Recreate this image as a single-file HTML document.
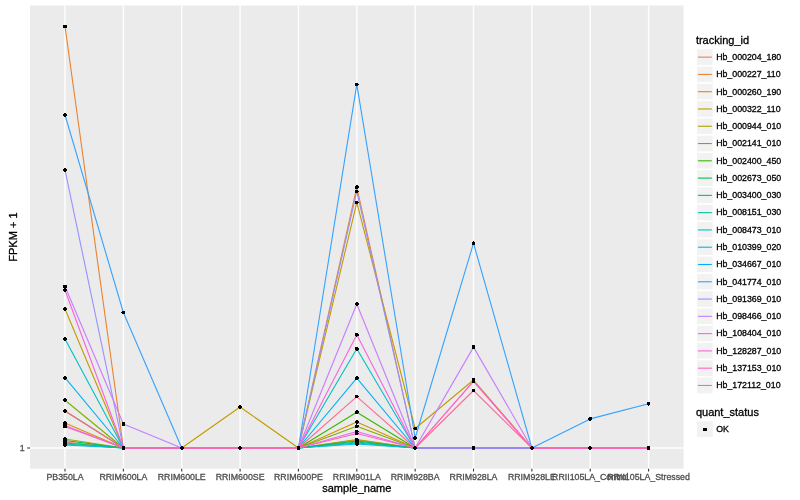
<!DOCTYPE html><html><head><meta charset="utf-8"><style>html,body{margin:0;padding:0;background:#fff;width:800px;height:500px;overflow:hidden}svg{display:block;will-change:transform}text{font-family:"Liberation Sans",sans-serif}text{stroke-width:0.3px}</style></head><body>
<svg width="800" height="500" viewBox="0 0 800 500">
<rect x="0" y="0" width="800" height="500" fill="#fff"/>
<rect x="30" y="5.5" width="653.6" height="463.2" fill="#EBEBEB"/>
<g stroke="#fff" stroke-width="1.4">
<line x1="30" y1="448" x2="683.6" y2="448"/>
<line x1="65.01" y1="5.5" x2="65.01" y2="468.7"/>
<line x1="123.37" y1="5.5" x2="123.37" y2="468.7"/>
<line x1="181.73" y1="5.5" x2="181.73" y2="468.7"/>
<line x1="240.09" y1="5.5" x2="240.09" y2="468.7"/>
<line x1="298.44" y1="5.5" x2="298.44" y2="468.7"/>
<line x1="356.8" y1="5.5" x2="356.8" y2="468.7"/>
<line x1="415.16" y1="5.5" x2="415.16" y2="468.7"/>
<line x1="473.51" y1="5.5" x2="473.51" y2="468.7"/>
<line x1="531.87" y1="5.5" x2="531.87" y2="468.7"/>
<line x1="590.23" y1="5.5" x2="590.23" y2="468.7"/>
<line x1="648.59" y1="5.5" x2="648.59" y2="468.7"/>
</g>
<g fill="none" stroke-width="1.1" stroke-linejoin="round" stroke-linecap="butt">
<polyline stroke="#F8766D" points="65.01,442 123.37,448 181.73,448 240.09,448 298.44,448 356.8,440 415.16,448 473.51,448 531.87,448 590.23,448 648.59,448"/>
<polyline stroke="#EA8331" points="65.01,26.4 123.37,448 181.73,448 240.09,448 298.44,448 356.8,187.2 415.16,448 473.51,448 531.87,448 590.23,448 648.59,448"/>
<polyline stroke="#D89000" points="65.01,423 123.37,448 181.73,448 240.09,448 298.44,448 356.8,422 415.16,448 473.51,448 531.87,448 590.23,448 648.59,448"/>
<polyline stroke="#C09B00" points="65.01,309 123.37,448 181.73,448 240.09,407 298.44,448 356.8,202.4 415.16,428.5 473.51,380 531.87,448 590.23,448 648.59,448"/>
<polyline stroke="#A3A500" points="65.01,439 123.37,448 181.73,448 240.09,448 298.44,448 356.8,439.5 415.16,448 473.51,448 531.87,448 590.23,448 648.59,448"/>
<polyline stroke="#7CAE00" points="65.01,400.3 123.37,448 181.73,448 240.09,448 298.44,448 356.8,426.3 415.16,448 473.51,448 531.87,448 590.23,448 648.59,448"/>
<polyline stroke="#39B600" points="65.01,411 123.37,448 181.73,448 240.09,448 298.44,448 356.8,412.2 415.16,448 473.51,448 531.87,448 590.23,448 648.59,448"/>
<polyline stroke="#00BB4E" points="65.01,440.5 123.37,448 181.73,448 240.09,448 298.44,448 356.8,441 415.16,448 473.51,448 531.87,448 590.23,448 648.59,448"/>
<polyline stroke="#00BF7D" points="65.01,443 123.37,448 181.73,448 240.09,448 298.44,448 356.8,442 415.16,448 473.51,448 531.87,448 590.23,448 648.59,448"/>
<polyline stroke="#00C1A3" points="65.01,444 123.37,448 181.73,448 240.09,448 298.44,448 356.8,443 415.16,448 473.51,448 531.87,448 590.23,448 648.59,448"/>
<polyline stroke="#00BFC4" points="65.01,339 123.37,448 181.73,448 240.09,448 298.44,448 356.8,348.8 415.16,448 473.51,448 531.87,448 590.23,448 648.59,448"/>
<polyline stroke="#00BAE0" points="65.01,445 123.37,448 181.73,448 240.09,448 298.44,448 356.8,444 415.16,448 473.51,448 531.87,448 590.23,448 648.59,448"/>
<polyline stroke="#00B0F6" points="65.01,377.7 123.37,448 181.73,448 240.09,448 298.44,448 356.8,378.2 415.16,448 473.51,448 531.87,448 590.23,448 648.59,448"/>
<polyline stroke="#35A2FF" points="65.01,115 123.37,312.5 181.73,448 240.09,448 298.44,448 356.8,84.4 415.16,438 473.51,243.2 531.87,448 590.23,418.9 648.59,403.7"/>
<polyline stroke="#9590FF" points="65.01,170 123.37,448 181.73,448 240.09,448 298.44,448 356.8,191.4 415.16,448 473.51,448 531.87,448 590.23,448 648.59,448"/>
<polyline stroke="#C77CFF" points="65.01,286.5 123.37,424 181.73,448 240.09,448 298.44,448 356.8,304 415.16,448 473.51,347.1 531.87,448 590.23,448 648.59,448"/>
<polyline stroke="#E76BF3" points="65.01,425.5 123.37,448 181.73,448 240.09,448 298.44,448 356.8,431.5 415.16,448 473.51,448 531.87,448 590.23,448 648.59,448"/>
<polyline stroke="#FA62DB" points="65.01,290.2 123.37,448 181.73,448 240.09,448 298.44,448 356.8,334.7 415.16,448 473.51,381 531.87,448 590.23,448 648.59,448"/>
<polyline stroke="#FF62BC" points="65.01,426.5 123.37,448 181.73,448 240.09,448 298.44,448 356.8,433.5 415.16,448 473.51,381.5 531.87,448 590.23,448 648.59,448"/>
<polyline stroke="#FF6A98" points="65.01,411 123.37,448 181.73,448 240.09,448 298.44,448 356.8,396.6 415.16,448 473.51,390.5 531.87,448 590.23,448 648.59,448"/>
</g>
<path fill="#000" shape-rendering="crispEdges" d="M64 440h2v1h-2zM63 441h4v1h-4zM63 442h4v1h-4zM64 443h2v1h-2zM122 446h3v1h-3zM122 447h3v1h-3zM122 448h3v1h-3zM122 449h3v1h-3zM181 446h2v1h-2zM180 447h4v1h-4zM180 448h4v1h-4zM181 449h2v1h-2zM239 446h2v1h-2zM238 447h4v1h-4zM238 448h4v1h-4zM239 449h2v1h-2zM297 446h3v1h-3zM297 447h3v1h-3zM297 448h3v1h-3zM297 449h3v1h-3zM356 438h2v1h-2zM355 439h4v1h-4zM355 440h4v1h-4zM356 441h2v1h-2zM414 446h2v1h-2zM413 447h4v1h-4zM413 448h4v1h-4zM414 449h2v1h-2zM472 446h3v1h-3zM472 447h3v1h-3zM472 448h3v1h-3zM472 449h3v1h-3zM531 446h2v1h-2zM530 447h4v1h-4zM530 448h4v1h-4zM531 449h2v1h-2zM589 446h2v1h-2zM588 447h4v1h-4zM588 448h4v1h-4zM589 449h2v1h-2zM647 446h3v1h-3zM647 447h3v1h-3zM647 448h3v1h-3zM647 449h3v1h-3zM63 25h4v1h-4zM63 26h4v1h-4zM63 27h4v1h-4zM356 185h2v1h-2zM355 186h4v1h-4zM355 187h4v1h-4zM355 188h3v1h-3zM64 421h2v1h-2zM63 422h4v1h-4zM63 423h4v1h-4zM64 424h2v1h-2zM356 420h2v1h-2zM355 421h4v1h-4zM355 422h4v1h-4zM356 423h2v1h-2zM64 307h2v1h-2zM63 308h4v1h-4zM63 309h4v1h-4zM64 310h2v1h-2zM239 405h2v1h-2zM238 406h4v1h-4zM238 407h4v1h-4zM239 408h2v1h-2zM355 201h3v1h-3zM355 202h4v1h-4zM355 203h3v1h-3zM414 427h3v1h-3zM413 428h4v1h-4zM414 429h3v1h-3zM472 378h3v1h-3zM472 379h3v1h-3zM472 380h3v1h-3zM472 381h3v1h-3zM64 437h2v1h-2zM63 438h4v1h-4zM63 439h4v1h-4zM64 440h2v1h-2zM355 438h3v1h-3zM355 439h4v1h-4zM355 440h3v1h-3zM64 398h2v1h-2zM63 399h4v1h-4zM63 400h4v1h-4zM64 401h2v1h-2zM356 424h1v1h-1zM355 425h4v1h-4zM355 426h4v1h-4zM355 427h3v1h-3zM64 409h2v1h-2zM63 410h4v1h-4zM63 411h4v1h-4zM64 412h2v1h-2zM356 410h2v1h-2zM355 411h4v1h-4zM355 412h4v1h-4zM355 413h3v1h-3zM63 439h4v1h-4zM63 440h4v1h-4zM63 441h4v1h-4zM356 439h2v1h-2zM355 440h4v1h-4zM355 441h4v1h-4zM356 442h2v1h-2zM64 441h2v1h-2zM63 442h4v1h-4zM63 443h4v1h-4zM64 444h2v1h-2zM356 440h2v1h-2zM355 441h4v1h-4zM355 442h4v1h-4zM356 443h2v1h-2zM64 442h2v1h-2zM63 443h4v1h-4zM63 444h4v1h-4zM64 445h2v1h-2zM356 441h2v1h-2zM355 442h4v1h-4zM355 443h4v1h-4zM356 444h2v1h-2zM64 337h2v1h-2zM63 338h4v1h-4zM63 339h4v1h-4zM64 340h2v1h-2zM355 347h3v1h-3zM355 348h4v1h-4zM355 349h4v1h-4zM356 350h2v1h-2zM64 443h2v1h-2zM63 444h4v1h-4zM63 445h4v1h-4zM64 446h2v1h-2zM356 442h2v1h-2zM355 443h4v1h-4zM355 444h4v1h-4zM356 445h2v1h-2zM64 376h2v1h-2zM63 377h4v1h-4zM63 378h4v1h-4zM64 379h2v1h-2zM356 376h2v1h-2zM355 377h4v1h-4zM355 378h4v1h-4zM355 379h3v1h-3zM64 113h2v1h-2zM63 114h4v1h-4zM63 115h4v1h-4zM64 116h2v1h-2zM122 311h3v1h-3zM121 312h4v1h-4zM122 313h3v1h-3zM355 83h3v1h-3zM355 84h4v1h-4zM355 85h3v1h-3zM414 436h2v1h-2zM413 437h4v1h-4zM413 438h4v1h-4zM414 439h2v1h-2zM473 241h1v1h-1zM472 242h3v1h-3zM472 243h3v1h-3zM472 244h3v1h-3zM589 417h3v1h-3zM588 418h4v1h-4zM588 419h4v1h-4zM589 420h2v1h-2zM647 402h3v1h-3zM647 403h3v1h-3zM647 404h3v1h-3zM648 405h1v1h-1zM64 168h2v1h-2zM63 169h4v1h-4zM63 170h4v1h-4zM64 171h2v1h-2zM355 190h3v1h-3zM355 191h4v1h-4zM355 192h3v1h-3zM63 285h4v1h-4zM63 286h4v1h-4zM63 287h4v1h-4zM122 422h3v1h-3zM122 423h3v1h-3zM122 424h3v1h-3zM122 425h3v1h-3zM356 302h2v1h-2zM355 303h4v1h-4zM355 304h4v1h-4zM356 305h2v1h-2zM472 345h3v1h-3zM472 346h3v1h-3zM472 347h3v1h-3zM472 348h3v1h-3zM63 424h4v1h-4zM63 425h4v1h-4zM63 426h4v1h-4zM355 430h3v1h-3zM355 431h4v1h-4zM355 432h3v1h-3zM64 288h2v1h-2zM63 289h4v1h-4zM63 290h4v1h-4zM64 291h2v1h-2zM355 333h3v1h-3zM355 334h4v1h-4zM355 335h4v1h-4zM356 336h1v1h-1zM472 379h3v1h-3zM472 380h3v1h-3zM472 381h3v1h-3zM472 382h3v1h-3zM63 425h4v1h-4zM63 426h4v1h-4zM63 427h4v1h-4zM355 432h3v1h-3zM355 433h4v1h-4zM355 434h3v1h-3zM472 380h3v1h-3zM472 381h3v1h-3zM472 382h3v1h-3zM355 395h3v1h-3zM355 396h4v1h-4zM355 397h3v1h-3zM472 389h3v1h-3zM472 390h3v1h-3zM472 391h3v1h-3z"/>
<g stroke="#333" stroke-width="1.07">
<line x1="27.25" y1="448" x2="30" y2="448"/>
<line x1="65.01" y1="468.7" x2="65.01" y2="471.45"/>
<line x1="123.37" y1="468.7" x2="123.37" y2="471.45"/>
<line x1="181.73" y1="468.7" x2="181.73" y2="471.45"/>
<line x1="240.09" y1="468.7" x2="240.09" y2="471.45"/>
<line x1="298.44" y1="468.7" x2="298.44" y2="471.45"/>
<line x1="356.8" y1="468.7" x2="356.8" y2="471.45"/>
<line x1="415.16" y1="468.7" x2="415.16" y2="471.45"/>
<line x1="473.51" y1="468.7" x2="473.51" y2="471.45"/>
<line x1="531.87" y1="468.7" x2="531.87" y2="471.45"/>
<line x1="590.23" y1="468.7" x2="590.23" y2="471.45"/>
<line x1="648.59" y1="468.7" x2="648.59" y2="471.45"/>
</g>
<text x="24.55" y="451.1" font-size="8.8" fill="#4D4D4D" stroke="#4D4D4D" text-anchor="end">1</text>
<text x="65.01" y="480" font-size="8.8" fill="#4D4D4D" stroke="#4D4D4D" text-anchor="middle">PB350LA</text>
<text x="123.37" y="480" font-size="8.8" fill="#4D4D4D" stroke="#4D4D4D" text-anchor="middle">RRIM600LA</text>
<text x="181.73" y="480" font-size="8.8" fill="#4D4D4D" stroke="#4D4D4D" text-anchor="middle">RRIM600LE</text>
<text x="240.09" y="480" font-size="8.8" fill="#4D4D4D" stroke="#4D4D4D" text-anchor="middle">RRIM600SE</text>
<text x="298.44" y="480" font-size="8.8" fill="#4D4D4D" stroke="#4D4D4D" text-anchor="middle">RRIM600PE</text>
<text x="356.8" y="480" font-size="8.8" fill="#4D4D4D" stroke="#4D4D4D" text-anchor="middle">RRIM901LA</text>
<text x="415.16" y="480" font-size="8.8" fill="#4D4D4D" stroke="#4D4D4D" text-anchor="middle">RRIM928BA</text>
<text x="473.51" y="480" font-size="8.8" fill="#4D4D4D" stroke="#4D4D4D" text-anchor="middle">RRIM928LA</text>
<text x="531.87" y="480" font-size="8.8" fill="#4D4D4D" stroke="#4D4D4D" text-anchor="middle">RRIM928LE</text>
<text x="590.23" y="480" font-size="8.8" fill="#4D4D4D" stroke="#4D4D4D" text-anchor="middle">RRII105LA_Control</text>
<text x="648.59" y="480" font-size="8.8" fill="#4D4D4D" stroke="#4D4D4D" text-anchor="middle">RRII105LA_Stressed</text>
<text x="356.8" y="492" font-size="11" fill="#000" stroke="#000" text-anchor="middle">sample_name</text>
<text x="16.6" y="237.1" font-size="11" fill="#000" stroke="#000" text-anchor="middle" transform="rotate(-90 16.6 237.1)">FPKM + 1</text>
<text x="695.9" y="44.2" font-size="11" fill="#000" stroke="#000">tracking_id</text>
<rect x="696.25" y="48.5" width="17.28" height="17.28" fill="#F2F2F2" stroke="#fff" stroke-width="1.5"/>
<line x1="697.95" y1="57.14" x2="711.83" y2="57.14" stroke="#F8766D" stroke-width="1.1"/>
<text x="716.13" y="59.94" font-size="8.8" fill="#000" stroke="#000">Hb_000204_180</text>
<rect x="696.25" y="65.78" width="17.28" height="17.28" fill="#F2F2F2" stroke="#fff" stroke-width="1.5"/>
<line x1="697.95" y1="74.42" x2="711.83" y2="74.42" stroke="#EA8331" stroke-width="1.1"/>
<text x="716.13" y="77.22" font-size="8.8" fill="#000" stroke="#000">Hb_000227_110</text>
<rect x="696.25" y="83.06" width="17.28" height="17.28" fill="#F2F2F2" stroke="#fff" stroke-width="1.5"/>
<line x1="697.95" y1="91.7" x2="711.83" y2="91.7" stroke="#D89000" stroke-width="1.1"/>
<text x="716.13" y="94.5" font-size="8.8" fill="#000" stroke="#000">Hb_000260_190</text>
<rect x="696.25" y="100.34" width="17.28" height="17.28" fill="#F2F2F2" stroke="#fff" stroke-width="1.5"/>
<line x1="697.95" y1="108.98" x2="711.83" y2="108.98" stroke="#C09B00" stroke-width="1.1"/>
<text x="716.13" y="111.78" font-size="8.8" fill="#000" stroke="#000">Hb_000322_110</text>
<rect x="696.25" y="117.62" width="17.28" height="17.28" fill="#F2F2F2" stroke="#fff" stroke-width="1.5"/>
<line x1="697.95" y1="126.26" x2="711.83" y2="126.26" stroke="#A3A500" stroke-width="1.1"/>
<text x="716.13" y="129.06" font-size="8.8" fill="#000" stroke="#000">Hb_000944_010</text>
<rect x="696.25" y="134.9" width="17.28" height="17.28" fill="#F2F2F2" stroke="#fff" stroke-width="1.5"/>
<line x1="697.95" y1="143.54" x2="711.83" y2="143.54" stroke="#7CAE00" stroke-width="1.1"/>
<text x="716.13" y="146.34" font-size="8.8" fill="#000" stroke="#000">Hb_002141_010</text>
<rect x="696.25" y="152.18" width="17.28" height="17.28" fill="#F2F2F2" stroke="#fff" stroke-width="1.5"/>
<line x1="697.95" y1="160.82" x2="711.83" y2="160.82" stroke="#39B600" stroke-width="1.1"/>
<text x="716.13" y="163.62" font-size="8.8" fill="#000" stroke="#000">Hb_002400_450</text>
<rect x="696.25" y="169.46" width="17.28" height="17.28" fill="#F2F2F2" stroke="#fff" stroke-width="1.5"/>
<line x1="697.95" y1="178.1" x2="711.83" y2="178.1" stroke="#00BB4E" stroke-width="1.1"/>
<text x="716.13" y="180.9" font-size="8.8" fill="#000" stroke="#000">Hb_002673_050</text>
<rect x="696.25" y="186.74" width="17.28" height="17.28" fill="#F2F2F2" stroke="#fff" stroke-width="1.5"/>
<line x1="697.95" y1="195.38" x2="711.83" y2="195.38" stroke="#00BF7D" stroke-width="1.1"/>
<text x="716.13" y="198.18" font-size="8.8" fill="#000" stroke="#000">Hb_003400_030</text>
<rect x="696.25" y="204.02" width="17.28" height="17.28" fill="#F2F2F2" stroke="#fff" stroke-width="1.5"/>
<line x1="697.95" y1="212.66" x2="711.83" y2="212.66" stroke="#00C1A3" stroke-width="1.1"/>
<text x="716.13" y="215.46" font-size="8.8" fill="#000" stroke="#000">Hb_008151_030</text>
<rect x="696.25" y="221.3" width="17.28" height="17.28" fill="#F2F2F2" stroke="#fff" stroke-width="1.5"/>
<line x1="697.95" y1="229.94" x2="711.83" y2="229.94" stroke="#00BFC4" stroke-width="1.1"/>
<text x="716.13" y="232.74" font-size="8.8" fill="#000" stroke="#000">Hb_008473_010</text>
<rect x="696.25" y="238.58" width="17.28" height="17.28" fill="#F2F2F2" stroke="#fff" stroke-width="1.5"/>
<line x1="697.95" y1="247.22" x2="711.83" y2="247.22" stroke="#00BAE0" stroke-width="1.1"/>
<text x="716.13" y="250.02" font-size="8.8" fill="#000" stroke="#000">Hb_010399_020</text>
<rect x="696.25" y="255.86" width="17.28" height="17.28" fill="#F2F2F2" stroke="#fff" stroke-width="1.5"/>
<line x1="697.95" y1="264.5" x2="711.83" y2="264.5" stroke="#00B0F6" stroke-width="1.1"/>
<text x="716.13" y="267.3" font-size="8.8" fill="#000" stroke="#000">Hb_034667_010</text>
<rect x="696.25" y="273.14" width="17.28" height="17.28" fill="#F2F2F2" stroke="#fff" stroke-width="1.5"/>
<line x1="697.95" y1="281.78" x2="711.83" y2="281.78" stroke="#35A2FF" stroke-width="1.1"/>
<text x="716.13" y="284.58" font-size="8.8" fill="#000" stroke="#000">Hb_041774_010</text>
<rect x="696.25" y="290.42" width="17.28" height="17.28" fill="#F2F2F2" stroke="#fff" stroke-width="1.5"/>
<line x1="697.95" y1="299.06" x2="711.83" y2="299.06" stroke="#9590FF" stroke-width="1.1"/>
<text x="716.13" y="301.86" font-size="8.8" fill="#000" stroke="#000">Hb_091369_010</text>
<rect x="696.25" y="307.7" width="17.28" height="17.28" fill="#F2F2F2" stroke="#fff" stroke-width="1.5"/>
<line x1="697.95" y1="316.34" x2="711.83" y2="316.34" stroke="#C77CFF" stroke-width="1.1"/>
<text x="716.13" y="319.14" font-size="8.8" fill="#000" stroke="#000">Hb_098466_010</text>
<rect x="696.25" y="324.98" width="17.28" height="17.28" fill="#F2F2F2" stroke="#fff" stroke-width="1.5"/>
<line x1="697.95" y1="333.62" x2="711.83" y2="333.62" stroke="#E76BF3" stroke-width="1.1"/>
<text x="716.13" y="336.42" font-size="8.8" fill="#000" stroke="#000">Hb_108404_010</text>
<rect x="696.25" y="342.26" width="17.28" height="17.28" fill="#F2F2F2" stroke="#fff" stroke-width="1.5"/>
<line x1="697.95" y1="350.9" x2="711.83" y2="350.9" stroke="#FA62DB" stroke-width="1.1"/>
<text x="716.13" y="353.7" font-size="8.8" fill="#000" stroke="#000">Hb_128287_010</text>
<rect x="696.25" y="359.54" width="17.28" height="17.28" fill="#F2F2F2" stroke="#fff" stroke-width="1.5"/>
<line x1="697.95" y1="368.18" x2="711.83" y2="368.18" stroke="#FF62BC" stroke-width="1.1"/>
<text x="716.13" y="370.98" font-size="8.8" fill="#000" stroke="#000">Hb_137153_010</text>
<rect x="696.25" y="376.82" width="17.28" height="17.28" fill="#F2F2F2" stroke="#fff" stroke-width="1.5"/>
<line x1="697.95" y1="385.46" x2="711.83" y2="385.46" stroke="#FF6A98" stroke-width="1.1"/>
<text x="716.13" y="388.26" font-size="8.8" fill="#000" stroke="#000">Hb_172112_010</text>
<text x="695.9" y="415.6" font-size="11" fill="#000" stroke="#000">quant_status</text>
<rect x="696.25" y="420.6" width="17.28" height="17.28" fill="#F2F2F2" stroke="#fff" stroke-width="1.5"/>
<path fill="#000" shape-rendering="crispEdges" d="M703 428h4v1h-4zM703 429h4v1h-4zM703 430h4v1h-4z"/>
<text x="716.13" y="432.04" font-size="8.8" fill="#000" stroke="#000">OK</text>
</svg></body></html>
